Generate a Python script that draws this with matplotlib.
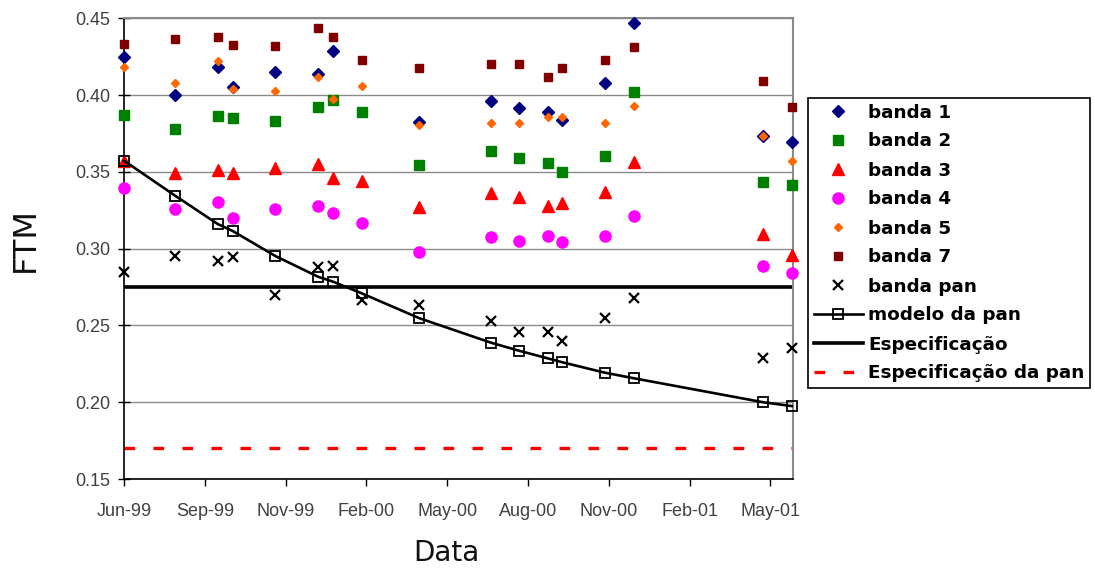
import numpy as np
import matplotlib
matplotlib.use("Agg")
import matplotlib.pyplot as plt
import matplotlib.dates as mdates
import datetime as dt

# ---- data ----
dates = ["1999-06-07", "1999-08-01", "1999-09-16", "1999-10-02", "1999-11-17",
         "2000-01-02", "2000-01-18", "2000-02-18", "2000-04-20", "2000-07-06",
         "2000-08-05", "2000-09-05", "2000-09-21", "2000-11-06", "2000-12-07",
         "2001-04-25", "2001-05-26"]
banda1 = [0.425, 0.400, 0.418, 0.4055, 0.415, 0.4137, 0.429, np.nan, 0.3827,
          0.3964, 0.3918, 0.389, 0.3838, 0.408, 0.447, 0.3734, 0.3697]
banda2 = [0.387, 0.3777, 0.3864, 0.3849, 0.3833, 0.3924, 0.3968, 0.3888, 0.3545,
          0.3638, 0.3592, 0.3556, 0.350, 0.3605, 0.4022, 0.3434, 0.3414]
banda3 = [0.357, 0.349, 0.3512, 0.3495, 0.3527, 0.3551, 0.3458, 0.344, 0.327,
          0.336, 0.3338, 0.3278, 0.3295, 0.3371, 0.3562, 0.3093, 0.2959]
banda4 = [0.3393, 0.3258, 0.3306, 0.3202, 0.3258, 0.328, 0.323, 0.3165, 0.298,
          0.3074, 0.305, 0.3082, 0.3045, 0.3082, 0.3215, 0.2889, 0.284]
banda5 = [0.4185, 0.4077, 0.4222, 0.4042, 0.4029, 0.4118, 0.3975, 0.4059, 0.3805,
          0.3816, 0.3816, 0.386, 0.3855, 0.3816, 0.3929, 0.3734, 0.357]
banda7 = [0.433, 0.4365, 0.438, 0.4326, 0.432, 0.444, 0.4376, 0.4227, 0.4176,
          0.420, 0.420, 0.412, 0.4174, 0.4227, 0.431, 0.409, 0.392]
banda_pan = [0.285, 0.2952, 0.2922, 0.2944, 0.2698, 0.2879, 0.289, 0.2666, 0.2633,
             0.2529, 0.2455, 0.2455, 0.240, 0.2547, 0.2681, 0.2286, 0.2355]
modelo_pan = [0.3573, 0.3345, 0.316, 0.3115, 0.2952, 0.2817, 0.2785, 0.2709, 0.2547,
              0.2388, 0.2336, 0.2286, 0.226, 0.2192, 0.2156, 0.200, 0.1975]
especificacao = 0.275
especificacao_pan = 0.17

axis_start = "1999-06-07"
tick_step_days = 87
n_ticks = 9
axis_span_days = 720

# ---- figure ----
fig = plt.figure(figsize=(10.95, 5.72), dpi=100)
ax = fig.add_axes([124 / 1095, 1 - 479 / 572, (792.7 - 124) / 1095, (479 - 18.3) / 572])

x = [dt.datetime.strptime(d, "%Y-%m-%d") for d in dates]
d0 = dt.datetime.strptime(axis_start, "%Y-%m-%d")

kw = dict(linestyle="none", clip_on=False, zorder=3)
ax.plot(x, banda1, marker="D", ms=6, color="#000080", label="banda 1", **kw)
ax.plot(x, banda2, marker="s", ms=7.5, color="#008000", label="banda 2", **kw)
ax.plot(x, banda3, marker="^", ms=8, color="#ff0000", label="banda 3", **kw)
ax.plot(x, banda4, marker="o", ms=8, color="#ff00ff", label="banda 4", **kw)
ax.plot(x, banda5, marker="D", ms=4, color="#ff6600", label="banda 5", **kw)
ax.plot(x, banda7, marker="s", ms=6, color="#800000", label="banda 7", **kw)
ax.plot(x, banda_pan, marker="x", ms=7.5, mew=1.6, color="black", label="banda pan", **kw)
ax.plot(x, modelo_pan, linestyle="-", lw=1.9, marker="s", ms=7, mfc="none", mec="black", mew=1.3,
        color="black", label="modelo da pan", zorder=4, clip_on=False)
ax.axhline(especificacao, color="black", lw=2.6, label="Especificação", zorder=2)
ax.axhline(especificacao_pan, color="#ff0000", lw=2.4, linestyle=(0, (3.2, 5.5)),
           label="Especificação da pan", zorder=2)

ax.set_ylim(0.15, 0.45)
ax.set_yticks(np.arange(0.15, 0.4501, 0.05))
ax.yaxis.set_major_formatter(matplotlib.ticker.FormatStrFormatter("%.2f"))
ax.set_xlim(d0, d0 + dt.timedelta(days=axis_span_days))
ax.set_xticks([d0 + dt.timedelta(days=tick_step_days * k) for k in range(n_ticks)])
ax.xaxis.set_major_formatter(mdates.DateFormatter("%b-%y"))

ax.grid(axis="y", color="#8a8a8a", lw=1.0, zorder=1)
ax.set_axisbelow(True)
for s in ["top", "right"]:
    ax.spines[s].set_color("#8a8a8a")
    ax.spines[s].set_linewidth(1.5)
for s in ["left", "bottom"]:
    ax.spines[s].set_color("black")
    ax.spines[s].set_linewidth(1.2)

ax.tick_params(axis="y", direction="inout", length=8, width=1, pad=6,
               labelsize=13, labelcolor="#404040")
ax.tick_params(axis="x", direction="out", length=5, width=1, pad=12,
               labelsize=13, labelcolor="#404040")
for lab in ax.get_xticklabels() + ax.get_yticklabels():
    lab.set_family("Liberation Sans")

fig.text(25 / 1095, 1 - 240 / 572, "FTM", rotation=90, ha="center", va="center",
         fontsize=23, family="DejaVu Sans", color="#111111")
fig.text(446 / 1095, 1 - 553 / 572, "Data", ha="center", va="center",
         fontsize=20, family="DejaVu Sans", color="#111111")

leg = ax.legend(loc="upper left", bbox_to_anchor=(808 / 1095, 1 - 98 / 572),
                bbox_transform=fig.transFigure, frameon=True, fancybox=False,
                edgecolor="black", framealpha=1, borderpad=0.3, labelspacing=0.6,
                handlelength=2.7, handletextpad=0.3, borderaxespad=0,
                prop={"family": "DejaVu Sans", "weight": "bold", "size": 13.2})
leg.get_frame().set_linewidth(1.2)

fig.savefig("out.png", dpi=100)
